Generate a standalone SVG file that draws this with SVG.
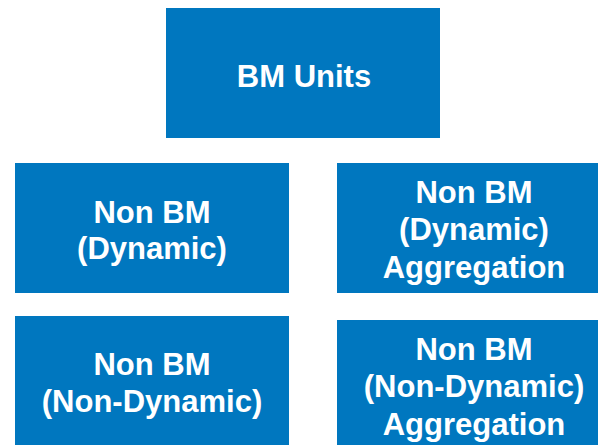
<svg xmlns="http://www.w3.org/2000/svg" width="598" height="445" viewBox="0 0 598 445">
<style>
.box{fill:#0077BF;}
.t{fill:#FFFFFF;font-family:"Liberation Sans",Arial,sans-serif;font-weight:bold;font-size:31px;text-anchor:middle;}
</style>
<rect width="598" height="445" fill="#FFFFFF"/>
<g id="connectors"/>
<g id="bm-units">
<rect class="box" x="166" y="8" width="274" height="130"/>
<text class="t" x="304" y="87">BM Units</text>
</g>
<g id="non-bm-dynamic">
<rect class="box" x="15" y="163" width="274" height="130"/>
<text class="t" x="152" y="223">Non BM</text>
<text class="t" x="152" y="259">(Dynamic)</text>
</g>
<g id="non-bm-dynamic-aggregation">
<rect class="box" x="337" y="163" width="274" height="130"/>
<text class="t" x="474" y="203">Non BM</text>
<text class="t" x="474" y="240">(Dynamic)</text>
<text class="t" x="474" y="278">Aggregation</text>
</g>
<g id="non-bm-non-dynamic">
<rect class="box" x="15" y="316" width="274" height="130"/>
<text class="t" x="152" y="375">Non BM</text>
<text class="t" x="152" y="412">(Non-Dynamic)</text>
</g>
<g id="non-bm-non-dynamic-aggregation">
<rect class="box" x="337" y="320" width="274" height="130"/>
<text class="t" x="474" y="360">Non BM</text>
<text class="t" x="474" y="397">(Non-Dynamic)</text>
<text class="t" x="474" y="435">Aggregation</text>
</g>
</svg>
